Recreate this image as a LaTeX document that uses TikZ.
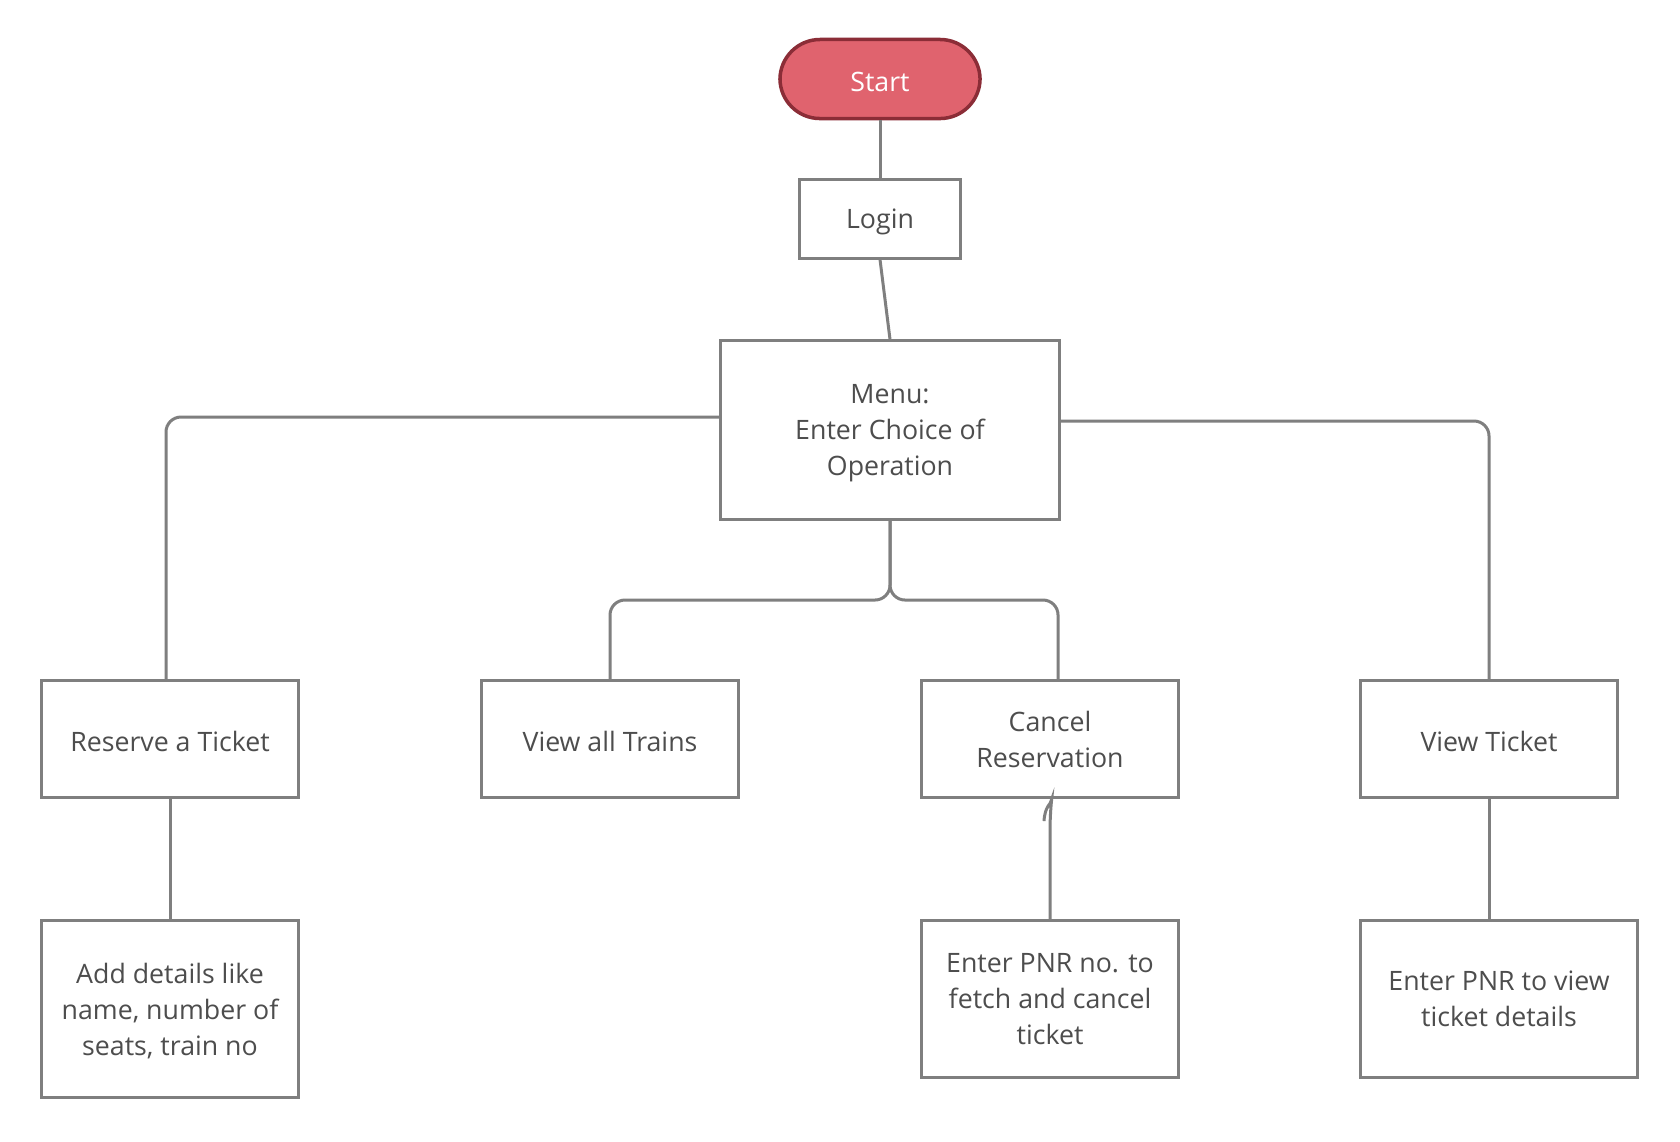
\documentclass[tikz,border=0pt]{standalone}
\usepackage{fontspec}
\setmainfont{Open Sans}
\definecolor{linegray}{HTML}{7F7F7F}
\definecolor{txtgray}{HTML}{4D4D4D}
\definecolor{startred}{HTML}{E0636E}
\definecolor{startedge}{HTML}{8B2D37}

\begin{document}
\begin{tikzpicture}[x=0.01cm, y=-0.01cm,
		box/.style={draw=linegray, line width=0.03cm, fill=white, align=center, text=txtgray,
			minimum width=2.57cm, minimum height=1.17cm, inner sep=0pt,
			font=\fontsize{7.6}{10.2}\selectfont,
			execute at begin node={\rule{0pt}{7.4pt}}},
		multi/.style={text depth=-0.4pt},
		startbox/.style={box, draw=startedge, line width=0.035cm, fill=startred, text=white, rounded corners=0.4cm},
		conn/.style={draw=linegray, line width=0.03cm, rounded corners=0.15cm}]
		\fill[white] (0,0) rectangle (1680,1141);
		% top part
		\node[startbox, minimum width=2.0cm, minimum height=0.79cm] (start) at (880,79) {Start};
		\node[box, minimum width=1.6cm, minimum height=0.78cm] (login) at (880,219) {Login};
		\node[box, multi, minimum width=3.39cm, minimum height=1.78cm] (menu) at (890,430) {Menu:\\Enter Choice of\\Operation};
		% operations
		\foreach \name/\xx/\opt/\txt in {reserve/170//{Reserve a Ticket}, trains/610//{View all Trains},
			cancel/1050/multi/{Cancel\\Reservation}, viewtkt/1489//{View Ticket}}{
			\node[box, \opt] (\name) at (\xx,739) {\txt};
		}
		\node[box, multi, minimum height=1.77cm] (adddet) at (170,1009) {Add details like\\name, number of\\seats, train no};
		\node[box, multi, minimum height=1.57cm] (enterpnr) at (1050,999) {Enter PNR no. to\\fetch and cancel\\ticket};
		\node[box, multi, minimum width=2.77cm, minimum height=1.57cm] (pnrview) at (1499,999) {Enter PNR to view\\ticket details};
		% connectors
		\coordinate (split) at (890,600);
		\draw[conn] (start) -- (login);
		\draw[conn] (login.south) -- (menu.north);
		\draw[conn] ([yshift=0.13cm]menu.west) -| ([xshift=-0.04cm]reserve.north);
		\draw[conn] ([yshift=0.09cm]menu.east) -| (viewtkt.north);
		\draw[conn] (menu.south) |- (split -| trains.north) -- (trains.north);
		\draw[conn] (menu.south) |- ([xshift=0.08cm]cancel.north |- split) -- ([xshift=0.08cm]cancel.north);
		\draw[conn] (reserve) -- (adddet);
		\draw[conn] (enterpnr.north) -- ([yshift=-0.15cm]cancel.south)
			.. controls ([xshift=0.01cm,yshift=-0.06cm]cancel.south) and ([xshift=-0.05cm,yshift=-0.06cm]cancel.south)
			.. ([xshift=-0.06cm,yshift=-0.22cm]cancel.south);
		\draw[conn] (viewtkt.south) -- (viewtkt.south |- pnrview.north);
	\end{tikzpicture}
\end{document}
